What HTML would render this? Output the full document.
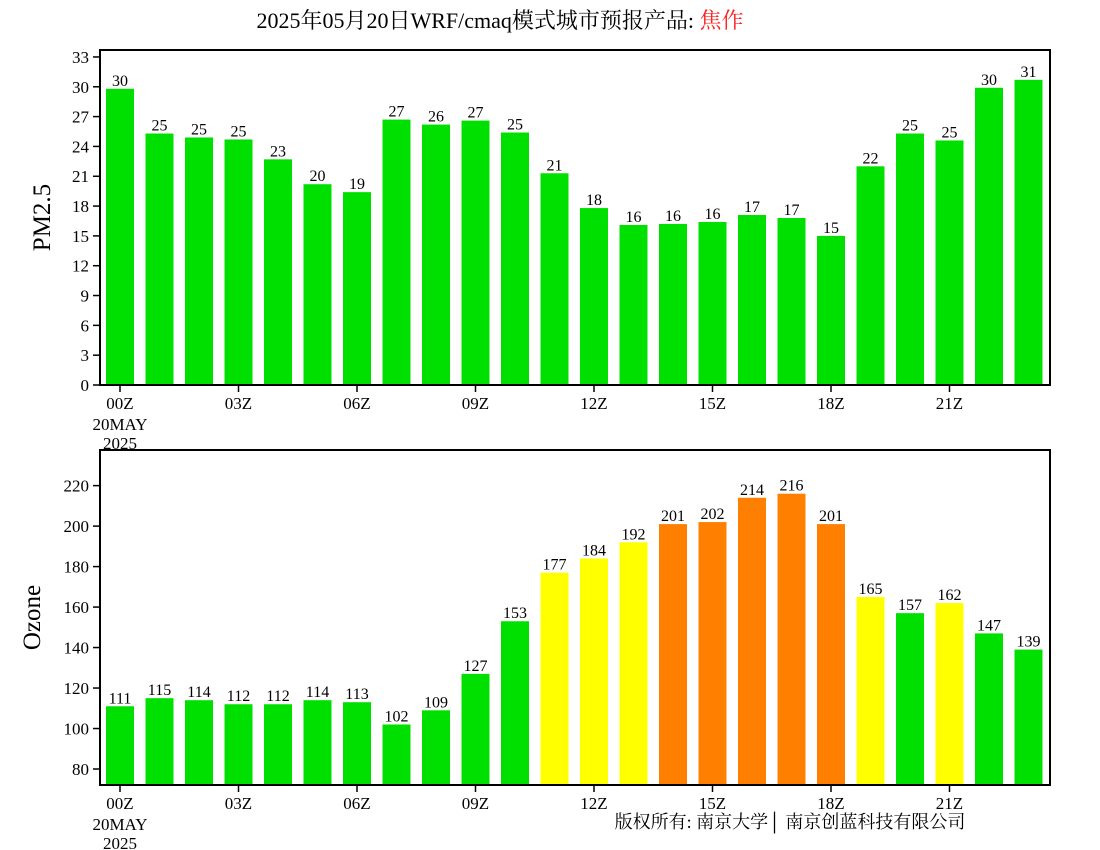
<!DOCTYPE html>
<html><head><meta charset="utf-8"><style>
body{margin:0;background:#fff;}
svg{display:block;font-family:"Liberation Serif","Noto Serif CJK SC",serif;}
</style></head><body>
<svg id="c" width="1100" height="850">
<text x="500" y="28" font-size="22" text-anchor="middle">2025年05月20日WRF/cmaq模式城市预报产品: <tspan fill="#ff2020">焦作</tspan></text>
<text x="790" y="828" font-size="18" text-anchor="middle">版权所有: 南京大学│ 南京创蓝科技有限公司</text>
</svg>
<script>
const hours = ["00Z","01Z","02Z","03Z","04Z","05Z","06Z","07Z","08Z","09Z","10Z","11Z","12Z","13Z","14Z","15Z","16Z","17Z","18Z","19Z","20Z","21Z","22Z","23Z"];
const pmValues = [29.8,25.3,24.9,24.7,22.7,20.2,19.4,26.7,26.2,26.6,25.4,21.3,17.8,16.1,16.2,16.4,17.1,16.8,15.0,22.0,25.3,24.6,29.9,30.7];
const ozoneValues = [111,115,114,112,112,114,113,102,109,127,153,177,184,192,201,202,214,216,201,165,157,162,147,139];
const pmTicks = [0,3,6,9,12,15,18,21,24,27,30,33];
const ozoneTicks = [80,100,120,140,160,180,200,220];
const xTickLabels = ["00Z","03Z","06Z","09Z","12Z","15Z","18Z","21Z"];

const svg = document.getElementById('c');
const NS = 'http://www.w3.org/2000/svg';
function mk(tag, attrs, parent){const e=document.createElementNS(NS,tag);for(const k in attrs)e.setAttribute(k,attrs[k]);(parent||svg).appendChild(e);return e;}
const L=100,R=1050;
function xScale(i){return 120+i*39.5;}
function ozColor(v){return v>200?'#ff8000':(v>160?'#ffff00':'#00e000');}

function panel(name, top, bottom, ymin, ymax, vals, ticks, title, titleX, colorFn){
  const y = v => bottom-(v-ymin)/(ymax-ymin)*(bottom-top);
  const g = mk('g',{});
  
  
  vals.forEach((v,i)=>{
    const x=xScale(i), yt=y(v);
    const b=mk('rect',{x:x-14,y:yt,width:28,height:bottom-yt,fill:colorFn(v)},g);
    
    
    const t=mk('text',{x:x,y:yt-3,'font-size':16,'text-anchor':'middle'},g);
    
    
    t.textContent=Math.round(v);
  });
  const f=mk('rect',{x:L,y:top,width:R-L,height:bottom-top,fill:'none',stroke:'#000','stroke-width':2},g);
  
  
  ticks.forEach(tv=>{
    const yy=y(tv);
    mk('line',{x1:L-7,x2:L,y1:yy,y2:yy,stroke:'#000','stroke-width':1.5},g);
    const t=mk('text',{x:L-11,y:yy+6,'font-size':17,'text-anchor':'end'},g);
    
    
    t.textContent=tv;
  });
  xTickLabels.forEach((lab,k)=>{
    const x=xScale(k*3);
    mk('line',{x1:x,x2:x,y1:bottom,y2:bottom+7,stroke:'#000','stroke-width':1.5},g);
    const t=mk('text',{x:x,y:bottom+24,'font-size':17,'text-anchor':'middle'},g);
    
    
    t.textContent=lab;
  });
  const d1=mk('text',{x:120,y:bottom+45,'font-size':17,'text-anchor':'middle'},g);
  
  
  d1.textContent='20MAY';
  const d2=mk('text',{x:120,y:bottom+64,'font-size':17,'text-anchor':'middle'},g);
  
  
  d2.textContent='2025';
  const cy=(top+bottom)/2;
  const yt=mk('text',{x:titleX,y:cy,'font-size':25,'text-anchor':'middle',transform:'rotate(-90 '+titleX+' '+cy+')'},g);
  
  
  yt.textContent=title;
}
panel('pm25',50,385,0,33.7,pmValues,pmTicks,'PM2.5',50,()=>'#00e000');
panel('ozone',450,785,72.1,237.6,ozoneValues,ozoneTicks,'Ozone',40,ozColor);
</script>
</body></html>
